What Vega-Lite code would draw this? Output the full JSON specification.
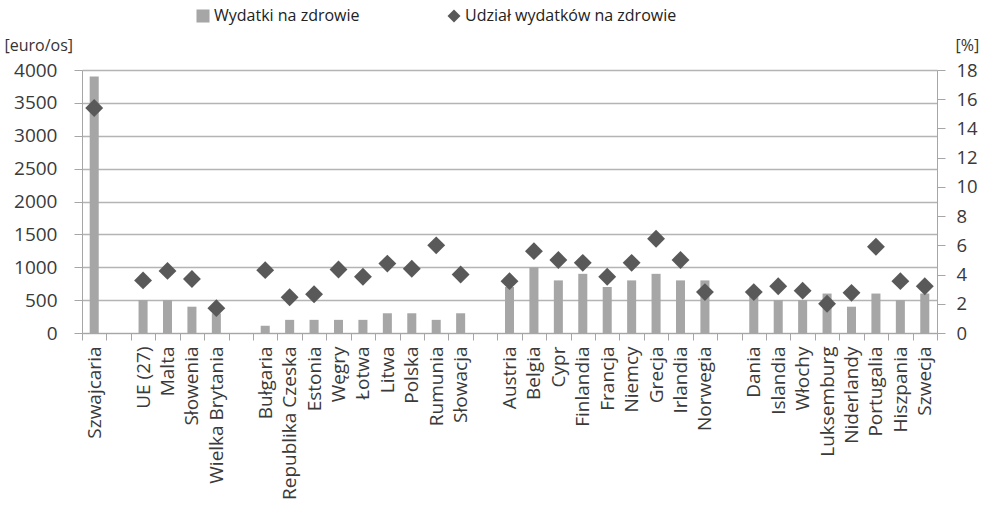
{
  "$schema": "https://vega.github.io/schema/vega-lite/v6.json",
  "width": 855,
  "height": 263,
  "autosize": {"type": "none"},
  "padding": {"left": 82, "top": 70, "right": 46, "bottom": 181},
  "background": "white",
  "config": {
    "font": "Open Sans",
    "view": {"stroke": null},
    "axis": {"labelFont": "Open Sans", "titleFont": "Open Sans", "labelColor": "#3a3a3a", "titleColor": "#333333", "domainColor": "#a6a6a6", "tickColor": "#a6a6a6", "gridColor": "#b4b4b4", "gridWidth": 1.5}
  },
  "data": {
    "values": [
      {"kraj": "Szwajcaria", "wydatki": 3900, "udzial": 15.4},
      {"kraj": "UE (27)", "wydatki": 500, "udzial": 3.6},
      {"kraj": "Malta", "wydatki": 500, "udzial": 4.25},
      {"kraj": "Słowenia", "wydatki": 400, "udzial": 3.7},
      {"kraj": "Wielka Brytania", "wydatki": 300, "udzial": 1.7},
      {"kraj": "Bułgaria", "wydatki": 110, "udzial": 4.3},
      {"kraj": "Republika Czeska", "wydatki": 200, "udzial": 2.45},
      {"kraj": "Estonia", "wydatki": 200, "udzial": 2.65},
      {"kraj": "Węgry", "wydatki": 200, "udzial": 4.35},
      {"kraj": "Łotwa", "wydatki": 200, "udzial": 3.85},
      {"kraj": "Litwa", "wydatki": 300, "udzial": 4.75},
      {"kraj": "Polska", "wydatki": 300, "udzial": 4.4},
      {"kraj": "Rumunia", "wydatki": 200, "udzial": 6.0},
      {"kraj": "Słowacja", "wydatki": 300, "udzial": 4.0},
      {"kraj": "Austria", "wydatki": 700, "udzial": 3.55},
      {"kraj": "Belgia", "wydatki": 1000, "udzial": 5.6},
      {"kraj": "Cypr", "wydatki": 800, "udzial": 5.0},
      {"kraj": "Finlandia", "wydatki": 900, "udzial": 4.8},
      {"kraj": "Francja", "wydatki": 700, "udzial": 3.85},
      {"kraj": "Niemcy", "wydatki": 800, "udzial": 4.8},
      {"kraj": "Grecja", "wydatki": 900, "udzial": 6.45},
      {"kraj": "Irlandia", "wydatki": 800, "udzial": 5.0},
      {"kraj": "Norwegia", "wydatki": 800, "udzial": 2.8},
      {"kraj": "Dania", "wydatki": 600, "udzial": 2.8},
      {"kraj": "Islandia", "wydatki": 500, "udzial": 3.2},
      {"kraj": "Włochy", "wydatki": 500, "udzial": 2.9},
      {"kraj": "Luksemburg", "wydatki": 600, "udzial": 2.0},
      {"kraj": "Niderlandy", "wydatki": 400, "udzial": 2.75},
      {"kraj": "Portugalia", "wydatki": 600, "udzial": 5.9},
      {"kraj": "Hiszpania", "wydatki": 500, "udzial": 3.55},
      {"kraj": "Szwecja", "wydatki": 600, "udzial": 3.2}
    ]
  },
  "encoding": {
    "x": {
      "field": "kraj",
      "type": "nominal",
      "scale": {
        "domain": ["Szwajcaria", " ", "UE (27)", "Malta", "Słowenia", "Wielka Brytania", "  ", "Bułgaria", "Republika Czeska", "Estonia", "Węgry", "Łotwa", "Litwa", "Polska", "Rumunia", "Słowacja", "   ", "Austria", "Belgia", "Cypr", "Finlandia", "Francja", "Niemcy", "Grecja", "Irlandia", "Norwegia", "    ", "Dania", "Islandia", "Włochy", "Luksemburg", "Niderlandy", "Portugalia", "Hiszpania", "Szwecja"],
        "paddingInner": 0,
        "paddingOuter": 0
      },
      "axis": {
        "title": null,
        "labelAngle": -90,
        "labelAlign": "right",
        "labelBaseline": "middle",
        "labelFontSize": 19,
        "labelPadding": 6,
        "labelLimit": 0,
        "tickBand": "extent",
        "tickSize": 7,
        "labelOverlap": false,
        "domainColor": "#a6a6a6"
      }
    }
  },
  "layer": [
    {
      "mark": {"type": "bar", "width": {"band": 0.37}, "color": "#a6a6a6"},
      "encoding": {
        "y": {
          "field": "wydatki",
          "type": "quantitative",
          "scale": {"domain": [0, 4000]},
          "axis": {
            "values": [0, 500, 1000, 1500, 2000, 2500, 3000, 3500, 4000],
            "format": "d",
            "title": "[euro/os]",
            "titleAngle": 0,
            "titleAlign": "left",
            "titleBaseline": "alphabetic",
            "titleX": -78,
            "titleY": -20,
            "titleFontSize": 16,
            "titleFontWeight": "normal",
            "labelFontSize": 19,
            "labelPadding": 17,
            "tickSize": 8,
            "grid": true,
            "domain": true
          }
        },
        "color": {
          "datum": "Wydatki na zdrowie",
          "scale": {"domain": ["Wydatki na zdrowie", "Udział wydatków na zdrowie"], "range": ["#a6a6a6", "#595959"]},
          "legend": {
            "title": null,
            "orient": "none",
            "direction": "horizontal",
            "legendX": 113,
            "legendY": -62,
            "labelFontSize": 16,
            "labelColor": "#222222",
            "labelLimit": 0,
            "symbolSize": 170,
            "symbolStrokeWidth": 0,
            "columnPadding": 86,
            "labelOffset": 3,
            "encode": {
              "symbols": {"update": {"shape": {"signal": "datum.value === 'Wydatki na zdrowie' ? 'square' : 'diamond'"}, "fillOpacity": {"value": 1}, "strokeWidth": {"value": 0}}}
            }
          }
        }
      }
    },
    {
      "mark": {"type": "point", "shape": "diamond", "filled": true, "size": 320, "opacity": 1},
      "encoding": {
        "y": {
          "field": "udzial",
          "type": "quantitative",
          "scale": {"domain": [0, 18]},
          "axis": {
            "orient": "right",
            "values": [0, 2, 4, 6, 8, 10, 12, 14, 16, 18],
            "title": "[%]",
            "titleAngle": 0,
            "titleAlign": "left",
            "titleBaseline": "alphabetic",
            "titleX": 18,
            "titleY": -20,
            "titleFontSize": 16,
            "titleFontWeight": "normal",
            "labelFontSize": 18.5,
            "labelPadding": 11,
            "tickSize": 8,
            "grid": false,
            "domain": true
          }
        },
        "color": {"datum": "Udział wydatków na zdrowie"}
      }
    }
  ],
  "resolve": {"scale": {"y": "independent"}}
}
